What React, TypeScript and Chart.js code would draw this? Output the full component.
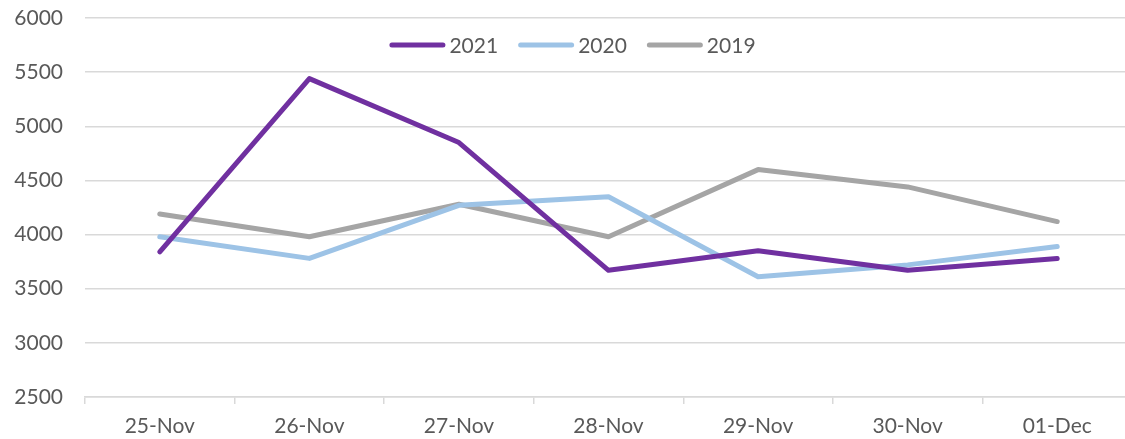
import React, { useEffect, useRef } from "react";
import { Chart, registerables } from "chart.js";

Chart.register(...registerables);

const categories = ["25-Nov", "26-Nov", "27-Nov", "28-Nov", "29-Nov", "30-Nov", "01-Dec"];
const series2021 = [3840, 5440, 4850, 3670, 3850, 3670, 3780];
const series2020 = [3980, 3780, 4270, 4350, 3610, 3720, 3890];
const series2019 = [4190, 3980, 4280, 3980, 4600, 4440, 4120];
const seriesNames = ["2021", "2020", "2019"];
const seriesColors = ["#7030A0", "#9DC3E6", "#A5A5A5"];

const FONT = "Lato, 'Noto Sans', sans-serif";
const TEXT = "#595959";

const innerLegend = {
  id: "innerLegend",
  afterDraw(chart: any) {
    const ctx = chart.ctx;
    const sets = chart.data.datasets;
    ctx.save();
    ctx.font = `21px ${FONT}`;
    ctx.textBaseline = "middle";
    ctx.textAlign = "left";
    const lineW = 56;
    const gap = 4;
    const itemGap = 20;
    const widths = sets.map((d: any) => lineW + gap + ctx.measureText(d.label).width);
    const total = widths.reduce((a: number, b: number) => a + b, 0) + itemGap * (sets.length - 1);
    const cx = (chart.chartArea.left + chart.chartArea.right) / 2 - 36;
    let x = cx - total / 2;
    const y = 45;
    sets.forEach((d: any, i: number) => {
      ctx.strokeStyle = d.borderColor;
      ctx.lineWidth = 5;
      ctx.lineCap = "round";
      ctx.beginPath();
      ctx.moveTo(x + 2.5, y);
      ctx.lineTo(x + lineW - 2.5, y);
      ctx.stroke();
      ctx.fillStyle = TEXT;
      ctx.fillText(d.label, x + lineW + gap, y + 1);
      x += widths[i] + itemGap;
    });
    ctx.restore();
  },
};

export default function App() {
  const ref = useRef<HTMLCanvasElement>(null);
  useEffect(() => {
    if (!ref.current) return;
    const values = [series2021, series2020, series2019];
    const chart = new Chart(ref.current, {
      type: "line",
      data: {
        labels: categories,
        datasets: seriesNames.map((name, i) => ({
          label: name,
          data: values[i],
          borderColor: seriesColors[i],
          backgroundColor: seriesColors[i],
          borderWidth: 5,
          pointRadius: 0,
          tension: 0,
          borderJoinStyle: "round" as const,
          borderCapStyle: "round" as const,
          fill: false,
        })),
      },
      options: {
        animation: false,
        responsive: true,
        maintainAspectRatio: false,
        layout: { padding: { top: 18, right: 8, bottom: 0, left: 0 } },
        plugins: { legend: { display: false }, tooltip: { enabled: false } },
        scales: {
          x: {
            offset: true,
            grid: {
              offset: true,
              drawOnChartArea: false,
              drawTicks: true,
              tickLength: 7,
              color: "#D9D9D9",
              lineWidth: 1.5,
            },
            border: { display: true, color: "#D9D9D9", width: 1.5 },
            ticks: { color: TEXT, font: { family: FONT, size: 21 }, padding: 10, maxRotation: 0 },
            afterFit: (s: any) => {
              s.height = 42;
            },
          },
          y: {
            min: 2500,
            max: 6000,
            ticks: {
              stepSize: 500,
              color: TEXT,
              font: { family: FONT, size: 21 },
              padding: 22,
              callback: (v: any) => String(v),
            },
            grid: { color: "#D9D9D9", lineWidth: 1.5, drawTicks: false },
            border: { display: false },
            afterFit: (s: any) => {
              s.width = 85;
              s.paddingTop = 0;
              s.paddingBottom = 0;
            },
          },
        },
      },
      plugins: [innerLegend],
    });
    return () => chart.destroy();
  }, []);
  return (
    <div style={{ position: "absolute", left: 0, top: 0, width: 1125, height: 439, overflow: "hidden" }}>
      <div style={{ position: "relative", width: 1140, height: 439 }}>
        <canvas ref={ref} />
      </div>
    </div>
  );
}
